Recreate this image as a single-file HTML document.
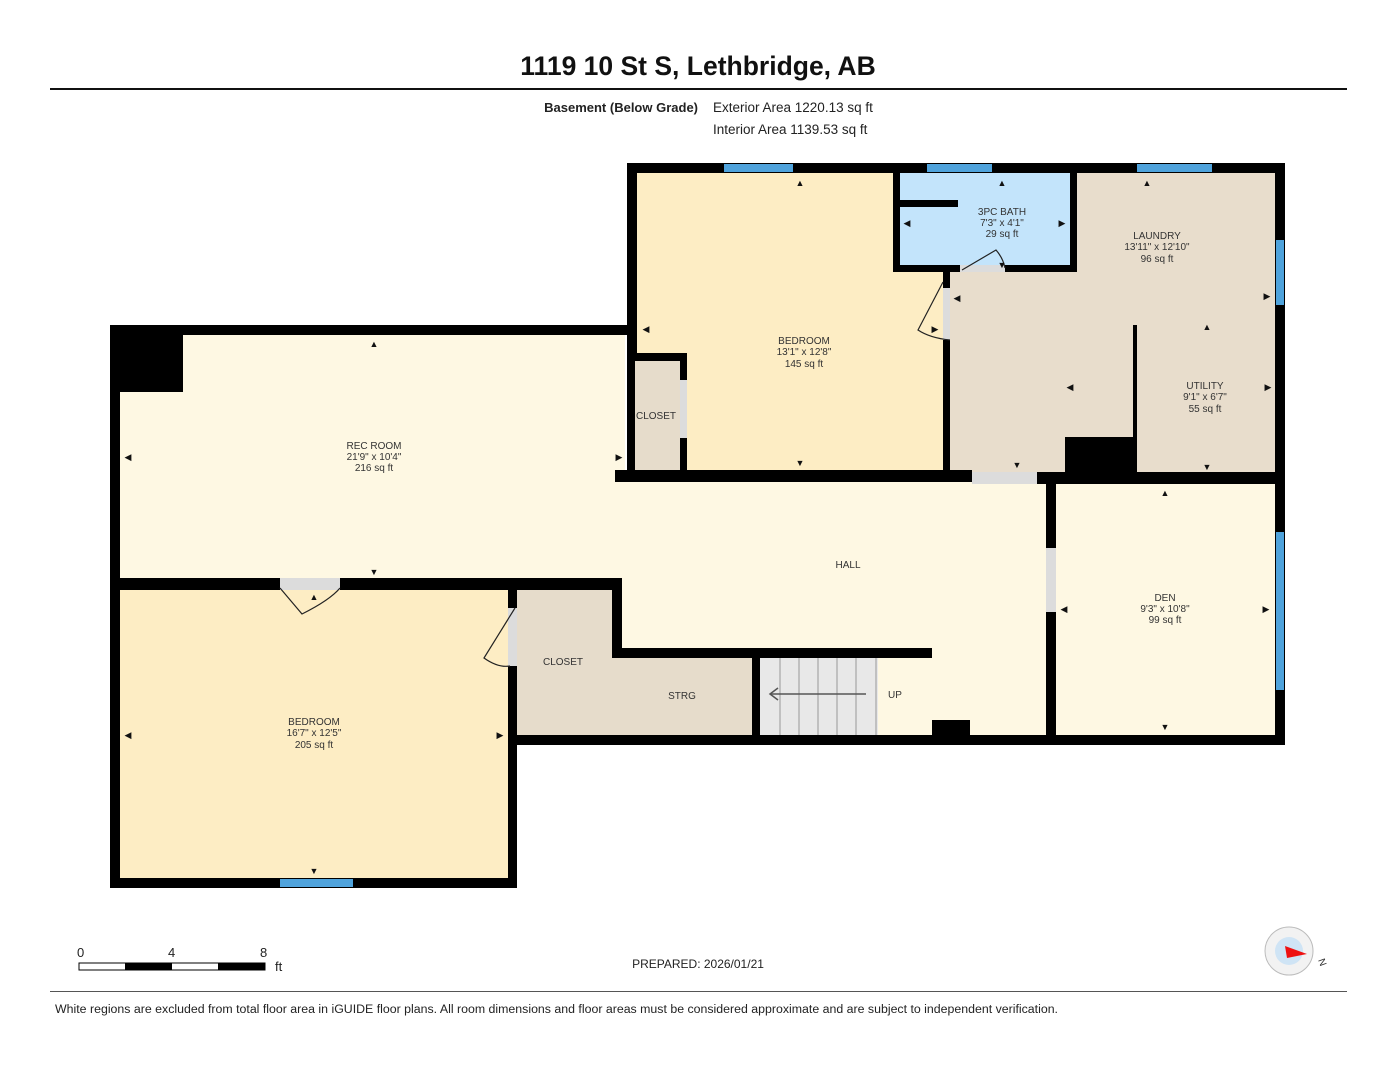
<!DOCTYPE html>
<html><head><meta charset="utf-8"><style>
body{margin:0;background:#fff;width:1396px;height:1080px;overflow:hidden;font-family:"Liberation Sans",sans-serif}
svg{position:absolute;left:0;top:0}
</style></head><body>
<svg width="1396" height="1080" viewBox="0 0 1396 1080" font-family="Liberation Sans, sans-serif">
<text x="698" y="75" text-anchor="middle" font-size="26.5" font-weight="bold" fill="#111">1119 10 St S, Lethbridge, AB</text>
<rect x="50" y="88" width="1297" height="2" fill="#111"/>
<text x="698" y="112" text-anchor="end" font-size="13" font-weight="bold" fill="#222">Basement (Below Grade)</text>
<text x="713" y="112" font-size="13.5" fill="#222">Exterior Area 1220.13 sq ft</text>
<text x="713" y="134" font-size="13.5" fill="#222">Interior Area 1139.53 sq ft</text>

<!-- fills -->
<rect x="115" y="330" width="510" height="255" fill="#fef8e3"/>
<rect x="615" y="476" width="440" height="265" fill="#fef8e3"/>
<rect x="1050" y="480" width="230" height="260" fill="#fef8e3"/>
<rect x="115" y="585" width="398" height="298" fill="#fdedc4"/>
<rect x="632" y="168" width="315" height="305" fill="#fdedc4"/>
<rect x="945" y="170" width="335" height="305" fill="#e8ddcc"/>
<rect x="895" y="170" width="180" height="100" fill="#c3e4fb"/>
<rect x="635" y="360" width="47" height="112" fill="#e6dccb"/>
<rect x="513" y="590" width="104" height="148" fill="#e6dccb"/>
<rect x="612" y="655" width="145" height="83" fill="#e6dccb"/>
<rect x="760" y="658" width="118" height="78" fill="#e8e8e8"/>
<g stroke="#999" stroke-width="1"><line x1="780" y1="658" x2="780" y2="735"/><line x1="799" y1="658" x2="799" y2="735"/><line x1="818" y1="658" x2="818" y2="735"/><line x1="837" y1="658" x2="837" y2="735"/><line x1="856" y1="658" x2="856" y2="735"/><line x1="876" y1="658" x2="876" y2="735"/></g>
<line x1="770" y1="694" x2="866" y2="694" stroke="#555" stroke-width="1.5"/>
<path d="M778 688 L770 694 L778 700" fill="none" stroke="#555" stroke-width="1.5"/>

<!-- walls -->
<g fill="#000">
<rect x="627" y="163" width="658" height="10"/>
<rect x="1275" y="163" width="10" height="582"/>
<rect x="508" y="735" width="777" height="10"/>
<rect x="110" y="325" width="527" height="10"/>
<rect x="110" y="325" width="10" height="563"/>
<rect x="110" y="878" width="407" height="10"/>
<rect x="508" y="578" width="9" height="310"/>
<rect x="627" y="163" width="10" height="195"/>
<rect x="110" y="578" width="512" height="12"/>
<rect x="612" y="578" width="10" height="80"/>
<rect x="612" y="648" width="320" height="10"/>
<rect x="752" y="655" width="8" height="85"/>
<rect x="615" y="470" width="357" height="12"/>
<rect x="1037" y="472" width="248" height="12"/>
<rect x="1046" y="472" width="10" height="273"/>
<rect x="943" y="270" width="7" height="202"/>
<rect x="627" y="353" width="60" height="8"/>
<rect x="627" y="353" width="8" height="125"/>
<rect x="680" y="353" width="7" height="120"/>
<rect x="893" y="168" width="7" height="104"/>
<rect x="1070" y="168" width="7" height="104"/>
<rect x="893" y="265" width="184" height="7"/>
<rect x="900" y="200" width="58" height="7"/>
<rect x="1133" y="325" width="4" height="148"/>
<rect x="1065" y="437" width="70" height="37"/>
<rect x="110" y="325" width="73" height="67"/>
<rect x="932" y="720" width="38" height="17"/>
</g>
<!-- door gaps -->
<g fill="#dcdcdc">
<rect x="972" y="472" width="65" height="12"/>
<rect x="1046" y="548" width="10" height="64"/>
<rect x="943" y="288" width="7" height="52"/>
<rect x="680" y="380" width="7" height="58"/>
<rect x="960" y="265" width="45" height="7"/>
<rect x="280" y="578" width="60" height="12"/>
<rect x="508" y="608" width="9" height="58"/>
</g>
<g fill="none" stroke="#222" stroke-width="1.2">
<path d="M943 282 L918 330 Q930 338 950 340"/>
<path d="M962 270 L996 250 Q1003 258 1005 268"/>
<path d="M280 588 L302 614 Q330 600 340 588"/>
<path d="M515 608 L484 658 Q498 668 510 666"/>
</g>
<!-- windows -->
<g fill="#4fa3dc">
<rect x="724" y="164" width="69" height="8"/>
<rect x="927" y="164" width="65" height="8"/>
<rect x="1137" y="164" width="75" height="8"/>
<rect x="1276" y="240" width="8" height="65"/>
<rect x="1276" y="532" width="8" height="158"/>
<rect x="280" y="879" width="73" height="8"/>
</g>

<g font-size="10" fill="#333" text-anchor="middle">
<text x="374" y="449">REC ROOM</text><text x="374" y="460">21'9" x 10'4"</text><text x="374" y="471">216 sq ft</text>
<text x="804" y="344">BEDROOM</text><text x="804" y="355">13'1" x 12'8"</text><text x="804" y="367">145 sq ft</text>
<text x="1002" y="215">3PC BATH</text><text x="1002" y="226">7'3" x 4'1"</text><text x="1002" y="237">29 sq ft</text>
<text x="1157" y="239">LAUNDRY</text><text x="1157" y="250">13'11" x 12'10"</text><text x="1157" y="262">96 sq ft</text>
<text x="1205" y="389">UTILITY</text><text x="1205" y="400">9'1" x 6'7"</text><text x="1205" y="412">55 sq ft</text>
<text x="656" y="419">CLOSET</text>
<text x="848" y="568">HALL</text>
<text x="1165" y="601">DEN</text><text x="1165" y="612">9'3" x 10'8"</text><text x="1165" y="623">99 sq ft</text>
<text x="314" y="725">BEDROOM</text><text x="314" y="736">16'7" x 12'5"</text><text x="314" y="748">205 sq ft</text>
<text x="563" y="665">CLOSET</text>
<text x="682" y="699">STRG</text>
<text x="895" y="698">UP</text>
</g>
<g font-size="9" fill="#111" text-anchor="middle">
<text x="374" y="347">▲</text><text x="374" y="575">▼</text><text x="128" y="460">◀</text><text x="619" y="460">▶</text>
<text x="800" y="186">▲</text><text x="800" y="466">▼</text><text x="646" y="332">◀</text><text x="935" y="332">▶</text>
<text x="1002" y="186">▲</text><text x="1002" y="268">▼</text><text x="907" y="226">◀</text><text x="1062" y="226">▶</text>
<text x="1147" y="186">▲</text><text x="957" y="301">◀</text><text x="1267" y="299">▶</text>
<text x="1207" y="330">▲</text><text x="1207" y="470">▼</text><text x="1070" y="390">◀</text><text x="1268" y="390">▶</text>
<text x="1017" y="468">▼</text>
<text x="1165" y="496">▲</text><text x="1165" y="730">▼</text><text x="1064" y="612">◀</text><text x="1266" y="612">▶</text>
<text x="314" y="600">▲</text><text x="314" y="874">▼</text><text x="128" y="738">◀</text><text x="500" y="738">▶</text>
</g>

<!-- scale -->
<g font-size="13" fill="#222">
<text x="77" y="957">0</text><text x="168" y="957">4</text><text x="260" y="957">8</text><text x="275" y="971">ft</text>
</g>
<rect x="79" y="963" width="186" height="7" fill="#fff" stroke="#000" stroke-width="1"/>
<rect x="125" y="963" width="47" height="7" fill="#000"/>
<rect x="218" y="963" width="47" height="7" fill="#000"/>
<text x="698" y="968" text-anchor="middle" font-size="12" fill="#222">PREPARED: 2026/01/21</text>
<circle cx="1289" cy="951" r="24" fill="#f2f2f2" stroke="#bbb"/>
<circle cx="1289" cy="951" r="14" fill="#cfe4f5"/>
<path d="M1285 946 L1307 954 L1287 958 Z" fill="#e11"/>
<text x="1318" y="960" font-size="10" fill="#333" transform="rotate(70 1318 960)">N</text>
<rect x="50" y="991" width="1297" height="1" fill="#555"/>
<text x="55" y="1013" font-size="11.5" fill="#222" textLength="1003" lengthAdjust="spacingAndGlyphs">White regions are excluded from total floor area in iGUIDE floor plans. All room dimensions and floor areas must be considered approximate and are subject to independent verification.</text>
</svg>
</body></html>
